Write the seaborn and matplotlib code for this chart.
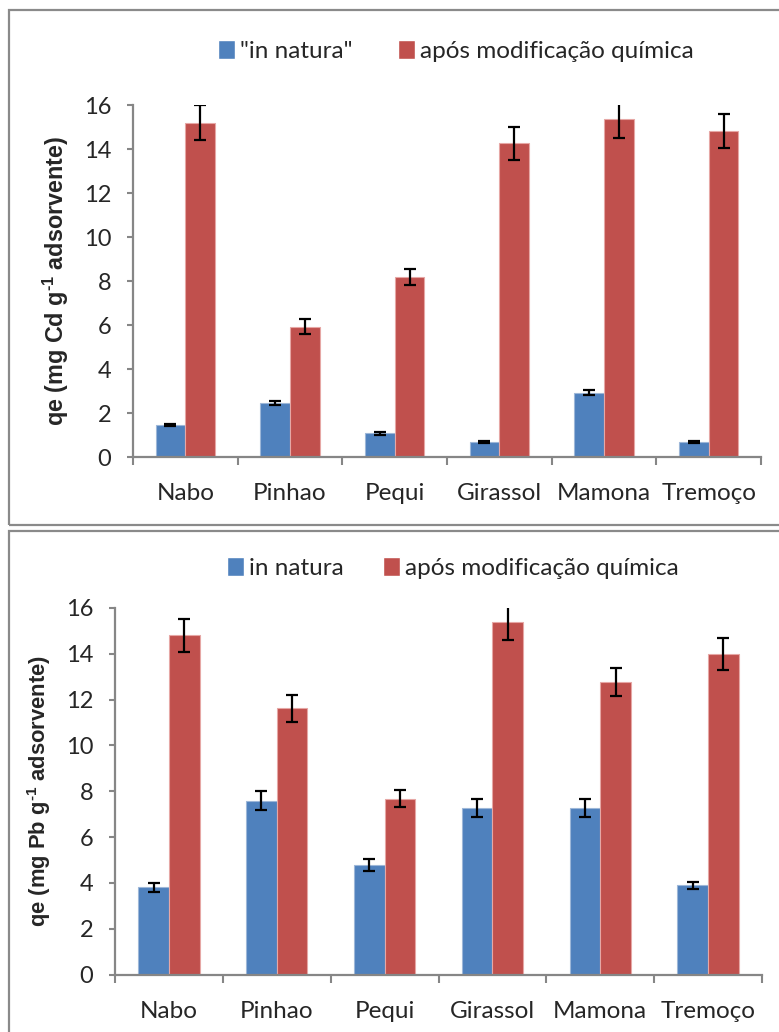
import matplotlib
matplotlib.use("Agg")
import matplotlib.pyplot as plt
from matplotlib.patches import Rectangle
import numpy as np
import pandas as pd
import seaborn as sns

# Biosorbents
categories = ["Nabo", "Pinhao", "Pequi", "Girassol", "Mamona", "Tremoço"]

# Cadmium uptake (mg Cd g-1 adsorbent)
cd_natural = [1.45, 2.45, 1.07, 0.67, 2.93, 0.67]
cd_natural_err = [0.05, 0.10, 0.05, 0.05, 0.12, 0.05]
cd_modified = [15.2, 5.93, 8.18, 14.26, 15.38, 14.82]
cd_modified_err = [0.80, 0.33, 0.38, 0.75, 0.88, 0.76]

# Lead uptake (mg Pb g-1 adsorbent)
pb_natural = [3.80, 7.59, 4.78, 7.26, 7.26, 3.89]
pb_natural_err = [0.21, 0.41, 0.25, 0.38, 0.38, 0.17]
pb_modified = [14.80, 11.62, 7.67, 15.38, 12.77, 13.99]
pb_modified_err = [0.74, 0.58, 0.37, 0.77, 0.62, 0.70]

cd_series = ['"in natura"', "após modificação química"]
pb_series = ["in natura", "após modificação química"]
cd_ylabel = r"qe (mg Cd g$^{\text{-1}}$ adsorvente)"
pb_ylabel = r"qe (mg Pb g$^{\text{-1}}$ adsorvente)"
yticks = [0, 2, 4, 6, 8, 10, 12, 14, 16]

blue = "#4F81BD"
red = "#C0504D"
axis_gray = "#868686"

sns.set_theme(style="white")
plt.rcParams["font.family"] = ["Lato", "DejaVu Sans"]
plt.rcParams["mathtext.fontset"] = "custom"
plt.rcParams["mathtext.rm"] = "Liberation Sans:bold"
plt.rcParams["mathtext.bf"] = "Liberation Sans:bold"

W, H = 779, 1032
fig = plt.figure(figsize=(W / 100, H / 100), dpi=100)


def frac_box(left, top, right, bottom):
    return [left / W, 1 - bottom / H, (right - left) / W, (bottom - top) / H]


def panel(ax, natural, natural_err, modified, modified_err, series, ylabel,
          ylabel_size, legend_xy, colspace):
    df = pd.DataFrame({
        "categoria": categories * 2,
        "serie": [series[0]] * len(categories) + [series[1]] * len(categories),
        "qe": list(natural) + list(modified),
    })
    sns.barplot(data=df, x="categoria", y="qe", hue="serie", order=categories,
                hue_order=series, palette=[blue, red], width=0.57,
                saturation=1, errorbar=None, ax=ax, legend=True)

    errs = [natural_err, modified_err]
    edge = ["#9db7d8", "#e6a7a5"]
    for container, err, ec in zip(ax.containers, errs, edge):
        xs = [p.get_x() + p.get_width() / 2 for p in container.patches]
        ys = [p.get_height() for p in container.patches]
        for p in container.patches:
            p.set_edgecolor(ec)
            p.set_linewidth(0.8)
        ax.errorbar(xs, ys, yerr=err, fmt="none", ecolor="black",
                    elinewidth=1.6, capsize=4.3, capthick=1.6, zorder=5)

    ax.set_ylim(0, 16)
    ax.set_xlim(-0.5, len(categories) - 0.5)
    ax.set_yticks(yticks)
    ax.set_yticklabels([str(t) for t in yticks], fontsize=17)
    # category boundaries carry the tick marks, centres carry the labels
    ax.set_xticks(np.arange(-0.5, len(categories)), labels=[""] * (len(categories) + 1))
    ax.set_xticks(np.arange(len(categories)), labels=categories, minor=True)
    ax.tick_params(axis="x", which="major", direction="out", length=5.5,
                   width=1.5, color=axis_gray, bottom=True)
    ax.tick_params(axis="x", which="minor", length=0, pad=19, labelsize=17.5,
                   bottom=True)
    ax.tick_params(axis="y", direction="out", length=4.5, width=1.5,
                   color=axis_gray, pad=11, left=True)
    for s in ["top", "right"]:
        ax.spines[s].set_visible(False)
    for s in ["left", "bottom"]:
        ax.spines[s].set_color(axis_gray)
        ax.spines[s].set_linewidth(1.6)
    ax.set_xlabel("")
    ax.set_ylabel(ylabel, fontsize=ylabel_size, fontweight="bold",
                  family="Liberation Sans", labelpad=9)

    handles, labels = ax.get_legend_handles_labels()
    ax.legend(handles, labels, loc="center",
              bbox_to_anchor=legend_xy, bbox_transform=fig.transFigure,
              ncol=2, frameon=False, fontsize=17.5, handlelength=0.7,
              handleheight=0.8, handletextpad=0.2, columnspacing=colspace)


ax_cd = fig.add_axes(frac_box(133, 105, 761, 457))
panel(ax_cd, cd_natural, cd_natural_err, cd_modified, cd_modified_err,
      cd_series, cd_ylabel, 16.8, (456 / W, 1 - 51 / H), 1.9)

ax_pb = fig.add_axes(frac_box(115, 608, 762, 974.5))
panel(ax_pb, pb_natural, pb_natural_err, pb_modified, pb_modified_err,
      pb_series, pb_ylabel, 15.8, (453 / W, 1 - 568 / H), 1.6)

# panel frames
for (left, top, bottom) in [(9, 10, 525), (9, 531, 1040)]:
    fig.add_artist(Rectangle((left / W, 1 - bottom / H), (W + 20 - left) / W,
                             (bottom - top) / H, transform=fig.transFigure,
                             fill=False, edgecolor="#8a8a8a", linewidth=1.6,
                             clip_on=False))

fig.savefig("out.png", dpi=100)
